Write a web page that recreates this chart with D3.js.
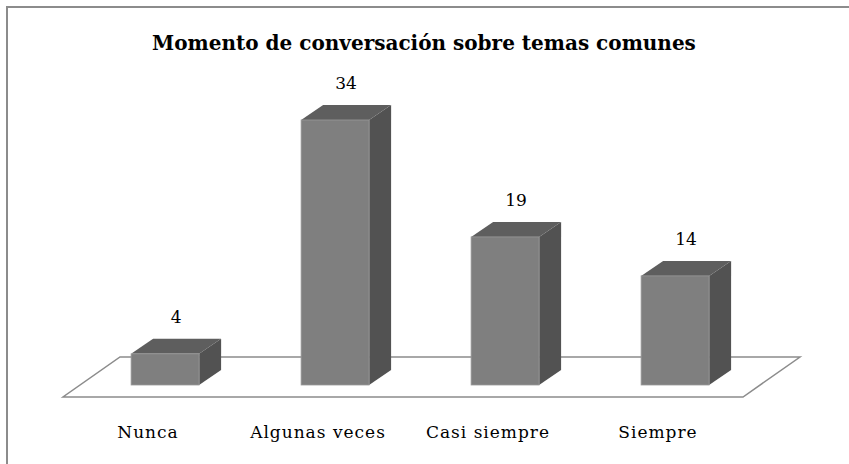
<!DOCTYPE html>
<html>
<head>
<meta charset="utf-8">
<script src="https://cdn.jsdelivr.net/npm/d3@7"></script>
<style>
  body { margin: 0; background: #fff; }
</style>
</head>
<body>
<svg id="chart" width="849" height="464"></svg>
<script>
const categories = ["Nunca", "Algunas veces", "Casi siempre", "Siempre"];
const values = [4, 34, 19, 14];
const title = "Momento de conversación sobre temas comunes";

const serif = "'DejaVu Serif', serif";

const svg = d3.select("#chart");

// outer frame (right and bottom edges fall outside the picture)
svg.append("rect")
    .attr("x", 7).attr("y", 7)
    .attr("width", 900).attr("height", 500)
    .attr("fill", "#fff")
    .attr("stroke", "#8c8c8c")
    .attr("stroke-width", 2);

svg.append("text")
    .attr("x", 424)
    .attr("y", 50)
    .attr("text-anchor", "middle")
    .attr("font-family", serif)
    .attr("font-size", 20)
    .attr("font-weight", "bold")
    .text(title);

// floor of the 3d plot
const floorFront = 397, depthX = 57, depthY = -40;
const x = d3.scaleBand()
    .domain(categories)
    .range([63, 743]);

const floor = [
    [x.range()[0], floorFront],
    [x.range()[1], floorFront],
    [x.range()[1] + depthX, floorFront + depthY],
    [x.range()[0] + depthX, floorFront + depthY]
];
svg.append("polygon")
    .attr("points", floor.map(p => p.join(",")).join(" "))
    .attr("fill", "#fff")
    .attr("stroke", "#8c8c8c")
    .attr("stroke-width", 1.5);

// bars sit 30% into the floor depth
const baseY = floorFront + depthY * 0.3;   // 385
const shiftX = depthX * 0.3;
const y = d3.scaleLinear().domain([0, 34]).range([baseY, 120]);
const barW = x.bandwidth() * 0.4;
const bdx = 22, bdy = -15;

const bars = svg.append("g").selectAll("g")
    .data(categories.map((c, i) => ({ cat: c, val: values[i] })))
    .join("g");

bars.each(function(d) {
    const g = d3.select(this);
    const x0 = x(d.cat) + x.bandwidth() / 2 + shiftX - barW / 2;
    const x1 = x0 + barW;
    const yt = y(d.val);

    // right side
    g.append("polygon")
        .attr("points", [[x1, baseY], [x1, yt], [x1 + bdx, yt + bdy], [x1 + bdx, baseY + bdy]].map(p => p.join(",")).join(" "))
        .attr("fill", "#525252");
    // top
    g.append("polygon")
        .attr("points", [[x0, yt], [x1, yt], [x1 + bdx, yt + bdy], [x0 + bdx, yt + bdy]].map(p => p.join(",")).join(" "))
        .attr("fill", "#5e5e5e");
    // front
    g.append("rect")
        .attr("x", x0).attr("y", yt)
        .attr("width", barW).attr("height", baseY - yt)
        .attr("fill", "#7f7f7f")
        .attr("stroke", "#9a9a9a")
        .attr("stroke-width", 0.8);

    g.append("text")
        .attr("x", x0 + barW / 2 + bdx / 2)
        .attr("y", yt + bdy - 16)
        .attr("text-anchor", "middle")
        .attr("font-family", serif)
        .attr("font-size", 17)
        .text(d.val);
});

// category labels
svg.append("g").selectAll("text")
    .data(categories)
    .join("text")
    .attr("x", d => x(d) + x.bandwidth() / 2)
    .attr("y", 438)
    .attr("text-anchor", "middle")
    .attr("font-family", serif)
    .attr("font-size", 17)
    .attr("letter-spacing", 1)
    .text(d => d);
</script>
</body>
</html>
